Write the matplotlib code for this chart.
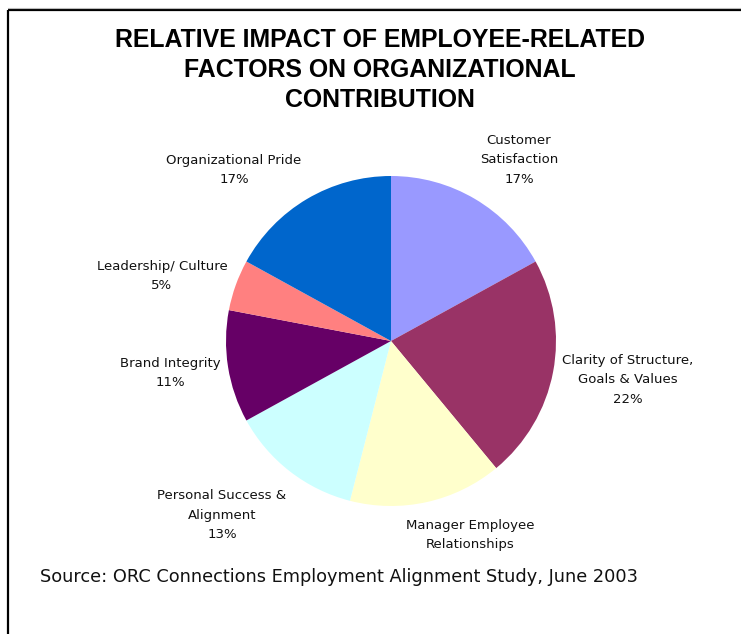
import matplotlib.pyplot as plt
from matplotlib.lines import Line2D

# data
labels = ["Customer\nSatisfaction\n17%", "Clarity of Structure,\nGoals & Values\n22%",
          "Manager Employee\nRelationships", "Personal Success &\nAlignment\n13%",
          "Brand Integrity\n11%", "Leadership/ Culture\n5%", "Organizational Pride\n17%"]
shares = [17, 22, 15, 13, 11, 5, 17]
colors = ["#9999FF", "#993366", "#FFFFCC", "#CCFFFF", "#660066", "#FF8080", "#0066CC"]

# label centres relative to pie centre, in units of radius
label_pos = [(0.776, 1.097), (1.436, -0.236), (0.479, -1.176), (-1.024, -1.055),
             (-1.339, -0.194), (-1.388, 0.394), (-0.952, 1.036)]

W, H = 741, 634
fig = plt.figure(figsize=(W / 100, H / 100), dpi=100)
ax = fig.add_axes([0, 0, 1, 1])

cx, cy, r = 391, H - 341, 165
ax.pie(shares, colors=colors, startangle=90, counterclock=False,
       center=(cx, cy), radius=r, frame=True,
       wedgeprops=dict(linewidth=0))
ax.set_xlim(0, W)
ax.set_ylim(0, H)
ax.set_aspect("equal")
ax.axis("off")

for lab, (dx, dy) in zip(labels, label_pos):
    ax.text(cx + dx * r, cy + dy * r, lab, ha="center", va="center",
            fontsize=9.5, family="DejaVu Sans", linespacing=1.62, color="#111111")

ax.text(380, H - 70, "RELATIVE IMPACT OF EMPLOYEE-RELATED\nFACTORS ON ORGANIZATIONAL\nCONTRIBUTION",
        ha="center", va="center", fontsize=17.9, fontweight="bold",
        family="Liberation Sans", linespacing=1.3)

ax.text(40, H - 577, "Source: ORC Connections Employment Alignment Study, June 2003",
        ha="left", va="center", fontsize=12.8, family="DejaVu Sans", color="#111111")

# frame
fig.add_artist(Line2D([8 / W, 1.01], [1 - 9.5 / H, 1 - 9.5 / H], color="black", lw=1.6,
                      solid_capstyle="butt"))
fig.add_artist(Line2D([8 / W, 1.01], [1 - 7.5 / H, 1 - 7.5 / H], color="#bbbbbb", lw=0.8))
fig.add_artist(Line2D([8 / W, 8 / W], [-0.01, 1 - 9.5 / H], color="black", lw=1.6,
                      solid_capstyle="butt"))

fig.savefig("out.png", dpi=100)
